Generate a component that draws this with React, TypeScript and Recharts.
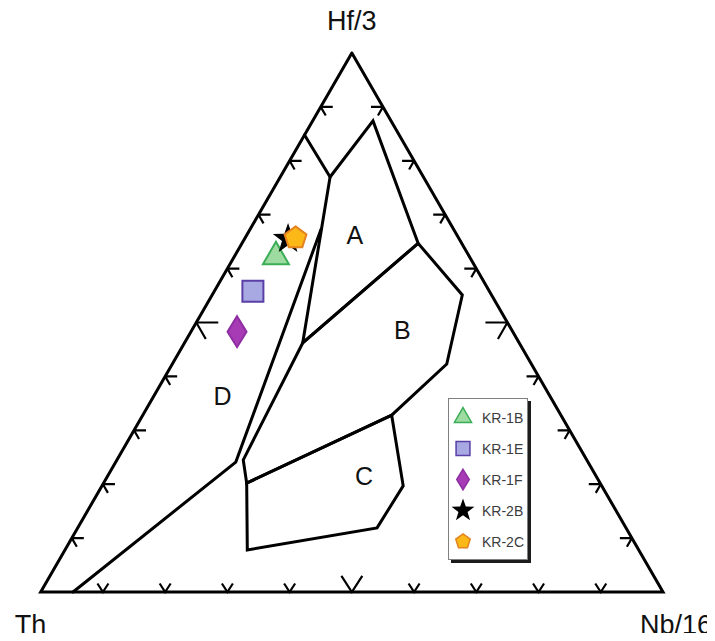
import React from "react";
import { ScatterChart, Scatter, XAxis, YAxis, Legend } from "recharts";

// every point is a composition [Hf/3, Th, Nb/16] in %
type Comp = [number, number, number];

const triangleFrame: Comp[] = [[100, 0, 0], [0, 100, 0], [0, 0, 100], [100, 0, 0]];
const fieldA: Comp[] = [[77.0, 15.0, 8.0], [87.4, 2.9, 9.7], [64.7, 7.0, 28.3], [46.2, 34.8, 19.0], [77.0, 15.0, 8.0]];
const fieldB: Comp[] = [
  [46.2, 34.8, 19.0], [64.7, 7.0, 28.3], [55.1, 4.7, 40.2], [42.3, 13.6, 44.1],
  [32.8, 27.2, 40.0], [20.2, 56.8, 23.0], [24.5, 55.2, 20.3], [46.2, 34.8, 19.0],
];
const fieldC: Comp[] = [[20.2, 56.8, 23.0], [32.8, 27.2, 40.0], [19.7, 31.9, 48.4], [11.9, 40.0, 48.1], [7.8, 62.9, 29.3], [20.2, 56.8, 23.0]];
const lineDUpper: Comp[] = [[84.8, 15.2, 0], [77.0, 15.0, 8.0]];
const lineDLower: Comp[] = [[67.3, 21.3, 11.4], [24.1, 56.6, 19.3], [0, 94.8, 5.2]];

const fieldNames = ["A", "B", "C", "D"];
const fieldLabelAt: Comp[] = [[66.2, 16.4, 17.4], [48.6, 17.6, 33.8], [21.5, 37.3, 41.2], [36.4, 52.6, 11.0]];

const sampleNames = ["KR-1B", "KR-1E", "KR-1F", "KR-2B", "KR-2C"];
const sampleHf = [62.2, 55.8, 48.3, 65.5, 65.7];
const sampleTh = [31.1, 38.0, 44.3, 27.5, 26.2];
const sampleNb = [6.7, 6.2, 7.4, 7.0, 8.1];

const tickSteps = [10, 20, 30, 40, 50, 60, 70, 80, 90];
const axisNames = ["Hf/3", "Th", "Nb/16"];
const axisCorners: Comp[] = [[100, 0, 0], [0, 100, 0], [0, 0, 100]];

const FONT = "'Liberation Sans', Arial, Helvetica, sans-serif";

// x runs Th -> Nb/16 along the base, y is the Hf/3 fraction (0 at base, 1 at apex)
function toXY([hf, th, nb]: Comp) {
  const s = hf + th + nb;
  const h = hf / s;
  const n = nb / s;
  return { x: n + h / 2, y: h };
}

const pts = (list: Comp[]) => list.map((c) => toXY(c));

const tickData = [
  ...tickSteps.map((p) => ({ ...toXY([p, 100 - p, 0]), edge: "L", big: p === 50 })),
  ...tickSteps.map((p) => ({ ...toXY([p, 0, 100 - p]), edge: "R", big: p === 50 })),
  ...tickSteps.map((p) => ({ ...toXY([0, 100 - p, p]), edge: "B", big: p === 50 })),
];

const labelData = fieldNames.map((name, i) => ({ ...toXY(fieldLabelAt[i]), name }));
const cornerData = axisNames.map((name, i) => ({ ...toXY(axisCorners[i]), name, idx: i }));
const sampleData = sampleNames.map((name, i) => ({
  ...toXY([sampleHf[i], sampleTh[i], sampleNb[i]]),
  name,
  idx: i,
}));

const sampleStyle = [
  { kind: "triangle", fill: "#9edba1", stroke: "#3aae57" },
  { kind: "square", fill: "#a8a9e3", stroke: "#5a3fa6" },
  { kind: "diamond", fill: "#a63bb5", stroke: "#8f2ea2" },
  { kind: "star", fill: "#000", stroke: "#000" },
  { kind: "pentagon", fill: "#fbb817", stroke: "#e4831f" },
];

function glyphPath(kind: string, k: number) {
  if (kind === "triangle") {
    const r = 15 * k;
    return `M0,${-r}L${r * 0.866},${r * 0.5}L${-r * 0.866},${r * 0.5}Z`;
  }
  if (kind === "square") {
    const a = 10.5 * k;
    return `M${-a},${-a}H${a}V${a}H${-a}Z`;
  }
  if (kind === "diamond") {
    const w = 9.5 * k;
    const h = 15.5 * k;
    return `M0,${-h}L${w},0L0,${h}L${-w},0Z`;
  }
  const star = kind === "star";
  const n = star ? 10 : 5;
  const R = star ? 16 * k : 11.5 * k;
  let d = "";
  for (let i = 0; i < n; i++) {
    const r = star && i % 2 === 1 ? R * 0.4 : R;
    const a = -Math.PI / 2 + (i * 2 * Math.PI) / n;
    d += `${i === 0 ? "M" : "L"}${(r * Math.cos(a)).toFixed(2)},${(r * Math.sin(a)).toFixed(2)}`;
  }
  return d + "Z";
}

function Glyph({ idx, cx, cy, k, sw }: { idx: number; cx: number; cy: number; k: number; sw: number }) {
  const st = sampleStyle[idx];
  return (
    <path
      d={glyphPath(st.kind, k)}
      transform={`translate(${cx},${cy})`}
      fill={st.fill}
      stroke={st.stroke}
      strokeWidth={st.kind === "star" ? 0 : sw}
      strokeLinejoin="miter"
    />
  );
}

const NoDot = () => <g />;

function TickMark(props: any) {
  const { cx, cy, payload } = props;
  const a = payload.big ? 22 : 12;
  const b = payload.big ? 19 : 10;
  let d = "";
  if (payload.edge === "L") d = `M${cx},${cy}h${a}M${cx},${cy}l${b * 0.5},${b * 0.866}`;
  if (payload.edge === "R") d = `M${cx},${cy}h${-a}M${cx},${cy}l${-b * 0.5},${b * 0.866}`;
  if (payload.edge === "B") d = `M${cx - b * 0.55},${cy - b * 0.85}L${cx},${cy}L${cx + b * 0.55},${cy - b * 0.85}`;
  return <path d={d} stroke="#000" strokeWidth={2.2} fill="none" />;
}

function FieldLabel(props: any) {
  const { cx, cy, payload } = props;
  return (
    <text x={cx} y={cy} textAnchor="middle" dominantBaseline="central" fontSize={25} fontFamily={FONT} fill="#111">
      {payload.name}
    </text>
  );
}

const cornerPlace = [
  { dx: 0, dy: -23, anchor: "middle" },
  { dx: -26, dy: 42, anchor: "start" },
  { dx: 49, dy: 42, anchor: "end" },
];

function CornerLabel(props: any) {
  const { cx, cy, payload } = props;
  const p = cornerPlace[payload.idx];
  return (
    <text x={cx + p.dx} y={cy + p.dy} textAnchor={p.anchor} fontSize={27} fontFamily={FONT} fill="#111">
      {payload.name}
    </text>
  );
}

function SampleMark(props: any) {
  const { cx, cy, payload } = props;
  return <Glyph idx={payload.idx} cx={cx} cy={cy} k={1} sw={2} />;
}

const renderLegend = () => (
  <div
    style={{
      width: 80,
      height: 162,
      boxSizing: "border-box",
      border: "1px solid #808080",
      boxShadow: "3px 3px 0 #1c1c1c",
      background: "#fff",
      paddingTop: 3,
    }}
  >
    {sampleNames.map((name, i) => (
      <div key={name} style={{ display: "flex", alignItems: "center", height: 31 }}>
        <svg width={28} height={31} style={{ display: "block" }}>
          <Glyph idx={i} cx={14} cy={15.5} k={i === 3 ? 0.75 : 0.66} sw={1.5} />
        </svg>
        <span style={{ marginLeft: 5, fontSize: 14, color: "#3c3c3c", fontFamily: FONT }}>{name}</span>
      </div>
    ))}
  </div>
);

const edgeLine = { stroke: "#000", strokeWidth: 3, strokeLinejoin: "miter" as const, strokeLinecap: "round" as const };

export default function App() {
  return (
    <div style={{ width: 715, height: 641, margin: -8, background: "#fff", overflow: "hidden" }}>
      <ScatterChart width={715} height={641} margin={{ top: 53, right: 52, bottom: 49, left: 40.7 }}>
        <XAxis type="number" dataKey="x" domain={[0, 1]} hide />
        <YAxis type="number" dataKey="y" domain={[0, 1]} hide />
        <Scatter data={pts(fieldA)} line={edgeLine} shape={NoDot} isAnimationActive={false} />
        <Scatter data={pts(fieldB)} line={edgeLine} shape={NoDot} isAnimationActive={false} />
        <Scatter data={pts(fieldC)} line={edgeLine} shape={NoDot} isAnimationActive={false} />
        <Scatter data={pts(lineDUpper)} line={edgeLine} shape={NoDot} isAnimationActive={false} />
        <Scatter data={pts(lineDLower)} line={edgeLine} shape={NoDot} isAnimationActive={false} />
        <Scatter data={pts(triangleFrame)} line={edgeLine} shape={NoDot} isAnimationActive={false} />
        <Scatter data={tickData} shape={TickMark} isAnimationActive={false} />
        <Scatter data={labelData} shape={FieldLabel} isAnimationActive={false} />
        <Scatter data={cornerData} shape={CornerLabel} isAnimationActive={false} />
        <Scatter data={sampleData} shape={SampleMark} isAnimationActive={false} />
        <Legend
          content={renderLegend}
          layout="vertical"
          align="center"
          verticalAlign="middle"
          wrapperStyle={{ left: 448, top: 398, width: 84 }}
        />
      </ScatterChart>
    </div>
  );
}
